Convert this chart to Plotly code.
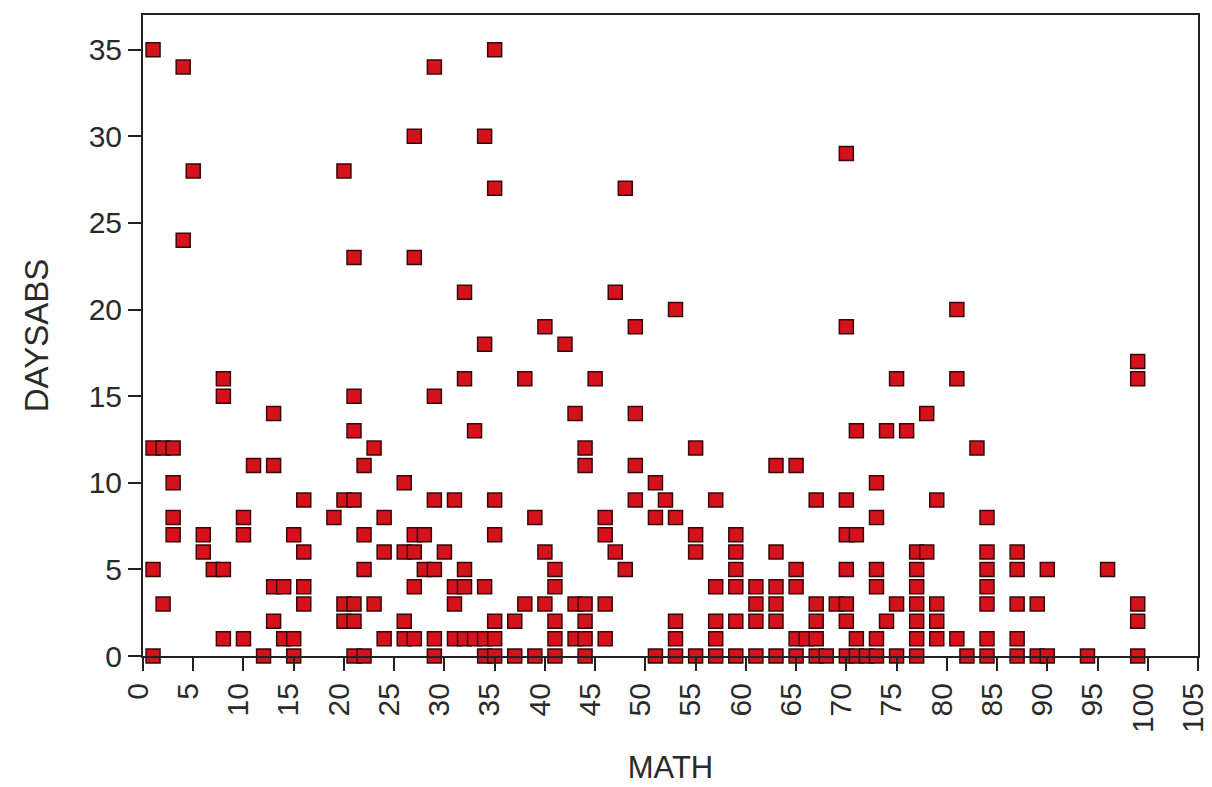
import plotly.graph_objects as go

# Values: MATH score -> list of DAYSABS values
points_by_math = {
    1: [35, 12, 5, 0], 2: [12, 3], 3: [12, 10, 8, 7], 4: [34, 24], 5: [28],
    6: [7, 6], 7: [5], 8: [16, 15, 5, 1], 10: [8, 7, 1], 11: [11], 12: [0],
    13: [14, 11, 4, 2], 14: [4, 1], 15: [7, 1, 0], 16: [9, 6, 4, 3], 19: [8],
    20: [28, 9, 3, 2], 21: [23, 15, 13, 9, 3, 2, 0], 22: [11, 7, 5, 0],
    23: [12, 3], 24: [8, 6, 1], 26: [10, 6, 2, 1], 27: [30, 23, 7, 6, 4, 1],
    28: [7, 5], 29: [34, 15, 9, 5, 1, 0], 30: [6], 31: [9, 4, 3, 1],
    32: [21, 16, 5, 4, 1], 33: [13, 1], 34: [30, 18, 4, 1, 0],
    35: [35, 27, 9, 7, 2, 1, 0], 37: [2, 0], 38: [16, 3], 39: [8, 0],
    40: [19, 6, 3], 41: [5, 4, 2, 1, 0], 42: [18], 43: [14, 3, 1],
    44: [12, 11, 3, 2, 1, 0], 45: [16], 46: [8, 7, 3, 1], 47: [21, 6],
    48: [27, 5], 49: [19, 14, 11, 9], 51: [10, 8, 0], 52: [9],
    53: [20, 8, 2, 1, 0], 55: [12, 7, 6, 0], 57: [9, 4, 2, 1, 0],
    59: [7, 6, 5, 4, 2, 0], 61: [4, 3, 2, 0], 63: [11, 6, 4, 3, 2, 0],
    65: [11, 5, 4, 1, 0], 66: [1], 67: [9, 3, 2, 1, 0], 68: [0], 69: [3],
    70: [29, 19, 9, 7, 5, 3, 2, 0], 71: [13, 7, 1, 0], 72: [0],
    73: [10, 8, 5, 4, 1, 0], 74: [13, 2], 75: [16, 3, 0], 76: [13],
    77: [6, 5, 4, 3, 2, 1, 0], 78: [14, 6], 79: [9, 3, 2, 1], 81: [20, 16, 1],
    82: [0], 83: [12], 84: [8, 6, 5, 4, 3, 1, 0], 87: [6, 5, 3, 1, 0],
    89: [3, 0], 90: [5, 0], 94: [0], 96: [5], 99: [17, 16, 3, 2, 0],
}

math = [m for m, ys in points_by_math.items() for _ in ys]
daysabs = [y for m, ys in points_by_math.items() for y in ys]

x_ticks = list(range(0, 106, 5))
y_ticks = list(range(0, 36, 5))

font_family = "Liberation Sans, Arial, sans-serif"
text_color = "#2a2a2a"

fig = go.Figure(
    go.Scatter(
        x=math,
        y=daysabs,
        mode="markers",
        cliponaxis=False,
        marker=dict(
            symbol="square",
            size=14,
            color="#D3121C",
            line=dict(color="#3A0808", width=1.5),
        ),
        hoverinfo="x+y",
    )
)

fig.update_layout(
    width=1212,
    height=787,
    margin=dict(l=143, r=14, t=15, b=131, autoexpand=False),
    paper_bgcolor="white",
    plot_bgcolor="white",
    showlegend=False,
    font=dict(family=font_family, size=30, color=text_color),
)

fig.update_xaxes(
    range=[0, 105],
    tickmode="array",
    tickvals=x_ticks,
    ticktext=[str(v) for v in x_ticks],
    tickangle=-90,
    ticks="outside",
    ticklen=13,
    tickwidth=1.5,
    tickcolor="#222222",
    showline=True,
    linewidth=2,
    linecolor="#222222",
    mirror=True,
    showgrid=False,
    zeroline=False,
    automargin=False,
    ticklabeloverflow="allow",
    ticklabelshift=-5,
    tickfont=dict(size=30),
    title=dict(text="MATH", font=dict(size=31), standoff=24),
)

fig.update_yaxes(
    range=[0, 37],
    tickmode="array",
    tickvals=y_ticks,
    ticktext=[str(v) for v in y_ticks],
    ticks="outside",
    ticklen=13,
    tickwidth=1.5,
    tickcolor="#222222",
    showline=True,
    linewidth=2,
    linecolor="#222222",
    mirror=True,
    showgrid=False,
    zeroline=False,
    automargin=False,
    ticklabeloverflow="allow",
    tickfont=dict(size=30),
    title=dict(text="DAYSABS", font=dict(size=33), standoff=30),
)

fig.write_html(
    "out.html",
    config={"displayModeBar": False},
    post_script="document.body.style.margin='0';document.body.style.overflow='hidden';",
)
